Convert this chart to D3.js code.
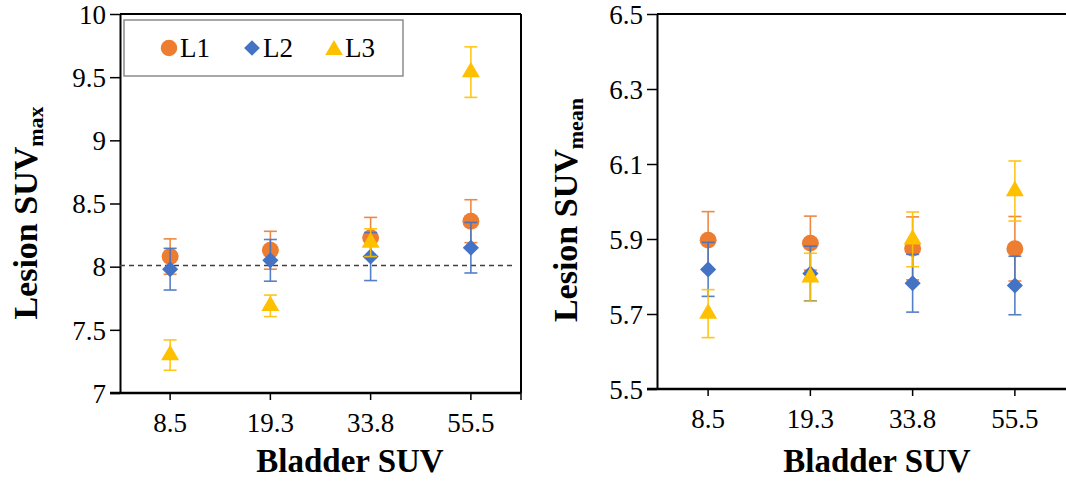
<!DOCTYPE html>
<html>
<head>
<meta charset="utf-8">
<script src="https://cdn.jsdelivr.net/npm/d3@7"></script>
<style>
  html, body { margin: 0; padding: 0; background: #fff; }
  svg { display: block; }
</style>
</head>
<body>
<svg id="chart" width="1066" height="483"></svg>
<script>
// Bladder SUV groups
const categories = ["8.5", "19.3", "33.8", "55.5"];
const seriesNames = ["L1", "L2", "L3"];

// Lesion SUVmax (mean ± SD)
const maxL1 = [8.08, 8.13, 8.23, 8.36];
const maxL1Err = [0.14, 0.15, 0.16, 0.17];
const maxL2 = [7.98, 8.05, 8.08, 8.15];
const maxL2Err = [0.165, 0.165, 0.19, 0.20];
const maxL3 = [7.30, 7.69, 8.19, 9.54];
const maxL3Err = [0.12, 0.085, 0.11, 0.20];
const maxReference = 8.01;
const maxTicks = [7, 7.5, 8, 8.5, 9, 9.5, 10];

// Lesion SUVmean (mean ± SD)
const meanL1 = [5.897, 5.889, 5.875, 5.874];
const meanL1Err = [0.076, 0.072, 0.084, 0.086];
const meanL2 = [5.819, 5.808, 5.782, 5.776];
const meanL2Err = [0.072, 0.073, 0.077, 0.078];
const meanL3 = [5.701, 5.798, 5.899, 6.028];
const meanL3Err = [0.064, 0.064, 0.073, 0.08];
const meanTicks = [5.5, 5.7, 5.9, 6.1, 6.3, 6.5];

const FONT = "'Liberation Serif', 'Times New Roman', Times, serif";
const colors = { L1: "#ED7D31", L2: "#4472C4", L3: "#FFC000" };

// marker shapes: circle, diamond (rotated square), triangle
function markerPath(name, scale = 1) {
  if (name === "L1") return d3.symbol().type(d3.symbolCircle).size(225 * scale)();
  if (name === "L2") return d3.symbol().type(d3.symbolSquare).size(130 * scale)();
  return d3.symbol().type(d3.symbolTriangle).size(140 * scale)();
}
const markerRotate = { L1: 0, L2: 45, L3: 0 };

const svg = d3.select("#chart");

function drawPanel(cfg) {
  const g = svg.append("g");
  const x = d3.scaleBand().domain(categories).range([cfg.x0, cfg.x1]).padding(0);
  const y = d3.scaleLinear().domain(cfg.domain).range([cfg.y0, cfg.y1]);

  // frame: top and right border
  g.append("line").attr("x1", cfg.x0).attr("x2", cfg.x1).attr("y1", cfg.y1).attr("y2", cfg.y1)
    .attr("stroke", "#000").attr("stroke-width", 2);
  if (cfg.rightBorder) {
    g.append("line").attr("x1", cfg.x1).attr("x2", cfg.x1).attr("y1", cfg.y1).attr("y2", cfg.y0)
      .attr("stroke", "#000").attr("stroke-width", 2);
  }

  // y axis
  const yAxis = d3.axisLeft(y).tickValues(cfg.ticks).tickSize(10).tickSizeOuter(0)
    .tickFormat(cfg.fmt);
  const ya = g.append("g").attr("transform", `translate(${cfg.x0},0)`).call(yAxis)
    .attr("font-family", FONT).attr("font-size", 27);
  ya.select(".domain").attr("stroke", "#000").attr("stroke-width", 2);
  ya.selectAll(".tick line").attr("stroke", "#000").attr("stroke-width", 1.5);
  ya.selectAll(".tick text").attr("x", -14).attr("dy", "0.34em").attr("fill", "#000");

  // x axis
  const xAxis = d3.axisBottom(x).tickSize(7).tickSizeOuter(0);
  const xa = g.append("g").attr("transform", `translate(0,${cfg.y0})`).call(xAxis)
    .attr("font-family", FONT).attr("font-size", 27);
  xa.select(".domain").attr("stroke", "#000").attr("stroke-width", 2.5)
    .attr("d", `M${cfg.x0 - 10},0H${cfg.x1}`);
  xa.selectAll(".tick line").attr("stroke", "#000").attr("stroke-width", 1.5);
  xa.selectAll(".tick text").attr("y", 20).attr("dy", "0.71em").attr("fill", "#000");
  if (cfg.rightBorder) {
    xa.append("line").attr("x1", cfg.x1).attr("x2", cfg.x1).attr("y1", 0).attr("y2", 7)
      .attr("stroke", "#000").attr("stroke-width", 1.5);
  }

  // reference line
  if (cfg.reference !== undefined) {
    g.append("line")
      .attr("x1", cfg.x0).attr("x2", cfg.x1 - 8)
      .attr("y1", y(cfg.reference)).attr("y2", y(cfg.reference))
      .attr("stroke", "#404040").attr("stroke-width", 1.5)
      .attr("stroke-dasharray", "5,4");
  }

  // series: error bars then markers, series by series
  cfg.series.forEach(s => {
    const data = categories.map((c, i) => ({ c, v: s.values[i], e: s.err[i] }));
    const cx = d => x(d.c) + x.bandwidth() / 2;
    const sg = g.append("g");
    const eb = sg.selectAll("g.err").data(data).join("g").attr("class", "err")
      .attr("stroke", colors[s.name]).attr("stroke-width", 1.6).attr("opacity", 0.9);
    eb.append("line").attr("x1", cx).attr("x2", cx)
      .attr("y1", d => y(d.v - d.e)).attr("y2", d => y(d.v + d.e));
    eb.append("line").attr("x1", d => cx(d) - 6.5).attr("x2", d => cx(d) + 6.5)
      .attr("y1", d => y(d.v + d.e)).attr("y2", d => y(d.v + d.e));
    eb.append("line").attr("x1", d => cx(d) - 6.5).attr("x2", d => cx(d) + 6.5)
      .attr("y1", d => y(d.v - d.e)).attr("y2", d => y(d.v - d.e));
    sg.selectAll("path.mk").data(data).join("path").attr("class", "mk")
      .attr("d", markerPath(s.name))
      .attr("transform", d => `translate(${cx(d)},${y(d.v)}) rotate(${markerRotate[s.name]})`)
      .attr("fill", colors[s.name]);
  });

  // x title
  g.append("text").attr("x", cfg.xTitleX).attr("y", 472).attr("text-anchor", "middle")
    .attr("font-family", FONT).attr("font-size", 33).attr("font-weight", "bold")
    .text("Bladder SUV");

  // y title with subscript
  const yt = g.append("text")
    .attr("transform", `translate(${cfg.yTitleX},${cfg.yTitleY}) rotate(-90)`)
    .attr("text-anchor", "middle").attr("font-family", FONT)
    .attr("font-size", 34).attr("font-weight", "bold");
  yt.append("tspan").text("Lesion SUV");
  yt.append("tspan").attr("font-size", 22).attr("dy", 6).text(cfg.sub);
}

drawPanel({
  x0: 120, x1: 521, y0: 393, y1: 14, domain: [7, 10], ticks: maxTicks,
  fmt: d3.format("~g"), rightBorder: true, reference: maxReference,
  xTitleX: 350, yTitleX: 37, yTitleY: 213, sub: "max",
  series: [
    { name: "L1", values: maxL1, err: maxL1Err },
    { name: "L2", values: maxL2, err: maxL2Err },
    { name: "L3", values: maxL3, err: maxL3Err }
  ]
});

drawPanel({
  x0: 657, x1: 1066, y0: 389, y1: 14, domain: [5.5, 6.5], ticks: meanTicks,
  fmt: d3.format(".1f"), rightBorder: false,
  xTitleX: 877, yTitleX: 577, yTitleY: 210, sub: "mean",
  series: [
    { name: "L1", values: meanL1, err: meanL1Err },
    { name: "L2", values: meanL2, err: meanL2Err },
    { name: "L3", values: meanL3, err: meanL3Err }
  ]
});

// legend
const legend = svg.append("g");
legend.append("rect").attr("x", 124).attr("y", 20).attr("width", 279).attr("height", 56)
  .attr("fill", "#fff").attr("stroke", "#8c8c8c").attr("stroke-width", 1.5);
const legendX = [169, 252, 334];
seriesNames.forEach((n, i) => {
  legend.append("path")
    .attr("d", markerPath(n, 0.95))
    .attr("transform", `translate(${legendX[i]},${n === "L3" ? 50 : 48}) rotate(${markerRotate[n]})`)
    .attr("fill", colors[n]);
  legend.append("text").attr("x", legendX[i] + 11).attr("y", 57)
    .attr("font-family", FONT).attr("font-size", 27).attr("fill", "#000").text(n);
});
</script>
</body>
</html>
